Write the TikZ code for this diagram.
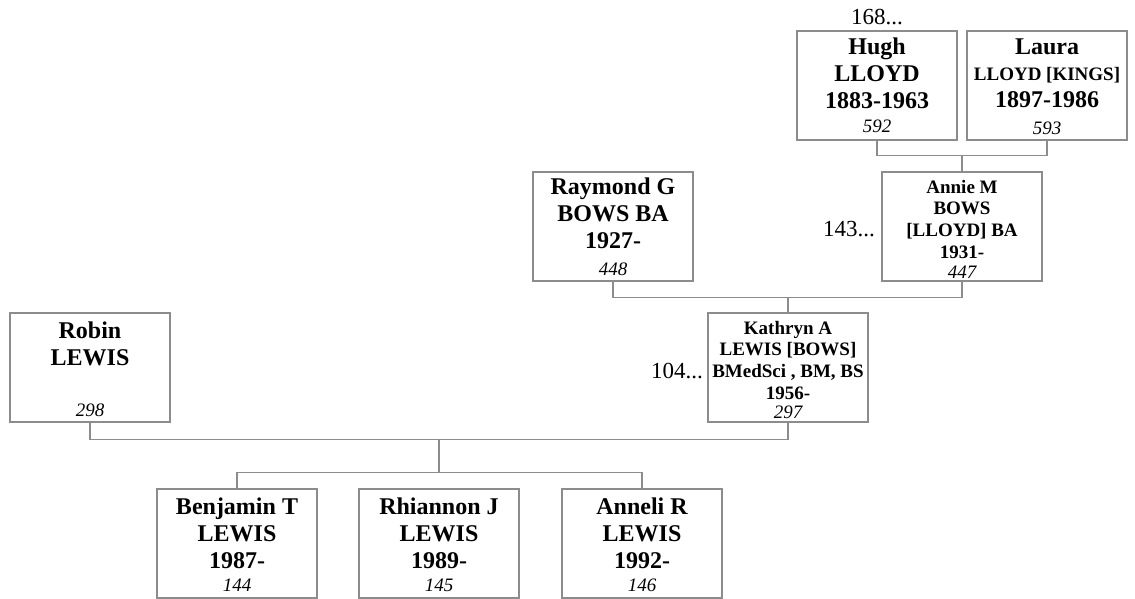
\documentclass[tikz,border=0pt]{standalone}
\usepackage{fontspec}
\setmainfont{Liberation Serif}
\usetikzlibrary{positioning}

\begin{document}
\begin{tikzpicture}[
    x=1pt, y=-1pt,
    % Estilos para las cajas y los textos
    caja/.style={draw=gray!90, line width=1.2pt, minimum width=160pt, minimum height=109pt, inner sep=0pt},
    nombre/.style={font=\fontsize{24}{26.7}\selectfont\bfseries, align=center, anchor=base, inner sep=0pt},
    nombre_chico/.style={font=\fontsize{19}{21.7}\selectfont\bfseries, align=center, anchor=base, inner sep=0pt},
    numero/.style={font=\fontsize{19}{21}\selectfont\itshape, anchor=base, inner sep=0pt},
    referencia/.style={font=\fontsize{23}{26}\selectfont, inner sep=0pt},
    linea/.style={draw=gray!90, line width=1.2pt}
    ]

    \useasboundingbox (0,0) rectangle (1135,599);

    % ABUELOS (la linea base es la de la ultima fila)
    % Hugh
    \node[caja] (hugh) at (877,85.5) {};
    \node[nombre] (hugh_t) at (877,108.3) {Hugh\\LLOYD\\1883-1963};
    \node[numero] (hugh_n) at (877,133) {592};
    \node[referencia, anchor=base] (hugh_r) at (877,25) {168...};

    % Laura
    \node[caja] (laura) at (1047,85.5) {};
    \node[nombre] (laura_t) at (1047,107.7) {Laura\\{\fontsize{19}{21.7}\selectfont LLOYD [KINGS]}\\1897-1986};
    \node[numero] (laura_n) at (1047,135) {593};

    % PADRES
    % Raymond
    \node[caja] (raymond) at (613,226.5) {};
    \node[nombre] (raymond_t) at (613,248.3) {Raymond G\\BOWS BA\\1927-};
    \node[numero] (raymond_n) at (613,275) {448};

    % Annie
    \node[caja] (annie) at (962,226.5) {};
    \node[nombre_chico] (annie_t) at (962,258.3) {Annie M\\BOWS\\{[LLOYD] BA}\\1931-};
    \node[numero] (annie_n) at (962,278.3) {447};
    \node[referencia, anchor=base east] (annie_r) at (875,236.7) {143...};

    % PAREJA
    % Robin
    \node[caja] (robin) at (90,367.5) {};
    \node[nombre] (robin_t) at (90,365) {Robin\\LEWIS};
    \node[numero] (robin_n) at (90,416.7) {298};

    % Kathryn
    \node[caja] (kathryn) at (788,367.5) {};
    \node[nombre_chico] (kathryn_t) at (788,399.3) {Kathryn A\\LEWIS [BOWS]\\BMedSci , BM, BS\\1956-};
    \node[numero] (kathryn_n) at (788,418.3) {297};
    \node[referencia, anchor=base east] (kathryn_r) at (703,378.3) {104...};

    % HIJOS
    \node[caja] (benjamin) at (237,543.5) {};
    \node[nombre] (benjamin_t) at (237,568.3) {Benjamin T\\LEWIS\\1987-};
    \node[numero] (benjamin_n) at (237,591.7) {144};

    \node[caja] (rhiannon) at (439,543.5) {};
    \node[nombre] (rhiannon_t) at (439,568.3) {Rhiannon J\\LEWIS\\1989-};
    \node[numero] (rhiannon_n) at (439,591.7) {145};

    \node[caja] (anneli) at (642,543.5) {};
    \node[nombre] (anneli_t) at (642,568.3) {Anneli R\\LEWIS\\1992-};
    \node[numero] (anneli_n) at (642,591.7) {146};

    % Uniones
    \draw[linea] (hugh.south) -- ++(0,15) coordinate (u1) -| (laura.south);
    \draw[linea] (annie.north) -- (annie.north |- u1);

    \draw[linea] (raymond.south) -- ++(0,16) coordinate (u2) -| (annie.south);
    \draw[linea] (kathryn.north) -- (kathryn.north |- u2);

    \draw[linea] (robin.south) -- ++(0,17) coordinate (u3) -| (kathryn.south);
    \draw[linea] (benjamin.north) -- ++(0,-16) coordinate (u4) -| (anneli.north);
    \draw[linea] (rhiannon.north |- u4) -- (rhiannon.north |- u3);

\end{tikzpicture}
\end{document}
